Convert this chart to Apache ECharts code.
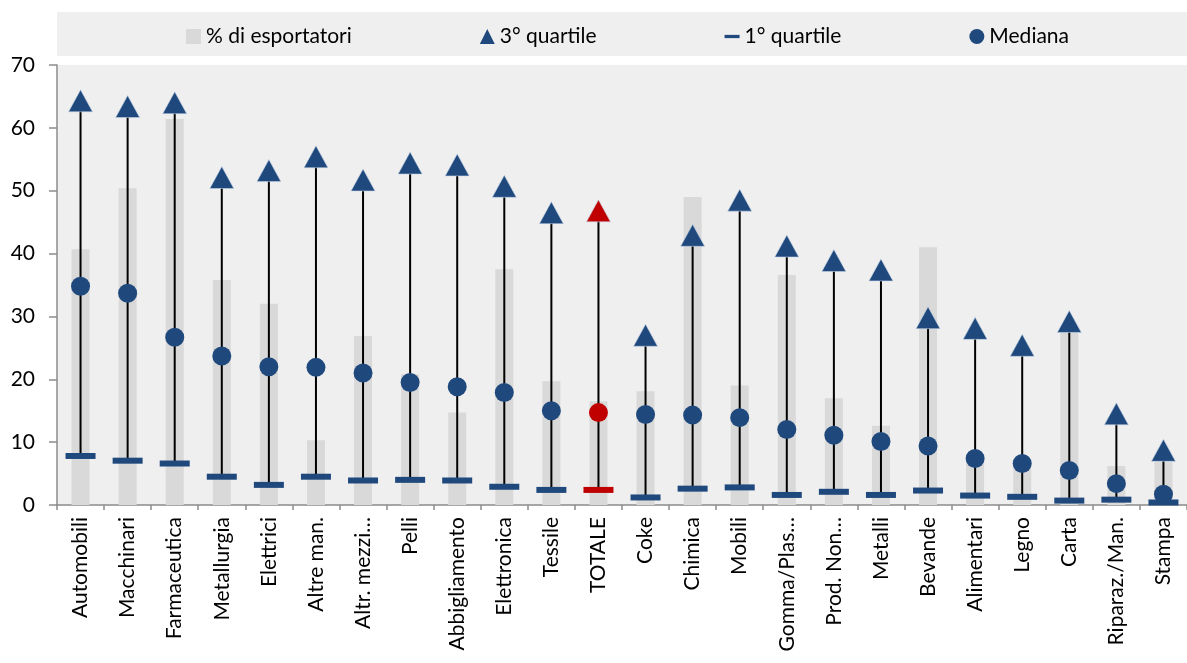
<!DOCTYPE html>
<html>
<head>
<meta charset="utf-8">
<script src="https://cdn.jsdelivr.net/npm/echarts@6/dist/echarts.min.js"></script>
<style>html,body{margin:0;padding:0;background:#fff}#c{width:1187px;height:663px}</style>
</head>
<body>
<div id="c"></div>
<script>
const categories = ["Automobili","Macchinari","Farmaceutica","Metallurgia","Elettrici","Altre man.","Altr. mezzi…","Pelli","Abbigliamento","Elettronica","Tessile","TOTALE","Coke","Chimica","Mobili","Gomma/Plas…","Prod. Non…","Metalli","Bevande","Alimentari","Legno","Carta","Riparaz./Man.","Stampa"];
const pctEsportatori = [40.7,50.4,61.4,35.8,32.0,10.3,26.9,20.8,14.7,37.5,19.7,16.5,18.1,49.0,19.0,36.6,17.0,12.6,41.0,7.5,6.0,27.4,6.2,6.8];
const quartile3 = [64.3,63.4,64.0,52.1,53.2,55.4,51.7,54.4,54.1,50.7,46.5,46.8,27.0,42.9,48.5,41.2,38.9,37.4,29.8,28.1,25.4,29.2,14.5,8.7];
const quartile1 = [7.8,7.05,6.6,4.5,3.2,4.5,3.9,4.0,3.9,2.9,2.4,2.4,1.2,2.6,2.8,1.6,2.1,1.6,2.3,1.5,1.3,0.7,0.85,0.4];
const mediana = [34.8,33.7,26.7,23.7,22.0,21.9,21.0,19.5,18.8,17.9,15.0,14.7,14.4,14.3,13.9,12.0,11.1,10.1,9.4,7.4,6.6,5.5,3.4,1.7];
const yTicks = [0,10,20,30,40,50,60,70];
const highlightIndex = categories.indexOf("TOTALE");

const BLUE = '#1f497d', RED = '#c00000', GRAY = '#d9d9d9';
const FONT = 'Lato';
const colored = arr => arr.map((v,i) => i === highlightIndex ? {value:v, itemStyle:{color:RED}} : v);

const chart = echarts.init(document.getElementById('c'), null, {renderer:'canvas'});
chart.setOption({
  animation:false,
  textStyle:{fontFamily:FONT},
  graphic:[{type:'rect', left:57, top:12, shape:{width:1130, height:44}, style:{fill:'#efefef'}, z:-1}],
  legend:{
    top:21, left:181, itemGap:128, itemWidth:15, itemHeight:15,
    textStyle:{fontFamily:FONT, fontSize:21, color:'#000'},
    data:[
      {name:'% di esportatori', icon:'rect', itemStyle:{color:GRAY, opacity:1}},
      {name:'3° quartile', icon:'triangle', itemStyle:{color:BLUE, borderWidth:0, opacity:1}},
      {name:'1° quartile', icon:'path://M0,0h16v3.5h-16z', itemStyle:{color:BLUE, opacity:1}},
      {name:'Mediana', icon:'circle', itemStyle:{color:BLUE, opacity:1}}
    ]
  },
  grid:{left:57, right:-7, top:65, bottom:158, show:true, backgroundColor:'#efefef', borderWidth:0},
  xAxis:{
    type:'category', data:categories,
    axisLine:{lineStyle:{color:'#8c8c8c', width:1.5}},
    axisTick:{show:true, alignWithLabel:false, length:5, lineStyle:{color:'#8c8c8c', width:1.5}},
    axisLabel:{rotate:90, interval:0, margin:12, fontFamily:FONT, fontSize:21, color:'#000'}
  },
  yAxis:{
    type:'value', min:yTicks[0], max:yTicks[yTicks.length-1], interval:10,
    axisLine:{show:true, lineStyle:{color:'#8c8c8c', width:1.5}},
    axisTick:{show:true, length:8, lineStyle:{color:'#8c8c8c', width:1.5}},
    splitLine:{show:false},
    axisLabel:{margin:22, fontFamily:FONT, fontSize:21, color:'#000'}
  },
  series:[
    {name:'% di esportatori', type:'bar', data:pctEsportatori, barWidth:18, itemStyle:{color:GRAY}, z:1},
    {name:'range', type:'custom', z:2,
      data:categories.map((c,i)=>[i, quartile1[i], quartile3[i]]),
      encode:{x:0, y:[1,2]},
      renderItem:(params, api)=>{
        const lo = api.coord([api.value(0), api.value(1)]);
        const hi = api.coord([api.value(0), api.value(2)]);
        return {type:'line', shape:{x1:lo[0], y1:lo[1], x2:hi[0], y2:hi[1]}, style:{stroke:'#000', lineWidth:2}};
      }
    },
    {name:'1° quartile', type:'scatter', symbol:'rect', symbolSize:[30,6], data:colored(quartile1), itemStyle:{color:BLUE, opacity:1}, z:3},
    {name:'Mediana', type:'scatter', symbol:'circle', symbolSize:19, data:colored(mediana), itemStyle:{color:BLUE, opacity:1}, z:4},
    {name:'3° quartile', type:'scatter', symbol:'triangle', symbolSize:[24,22], data:colored(quartile3), itemStyle:{color:BLUE, opacity:1, borderColor:'#c6d3e6', borderWidth:0.6}, z:5}
  ]
});
</script>
</body>
</html>
